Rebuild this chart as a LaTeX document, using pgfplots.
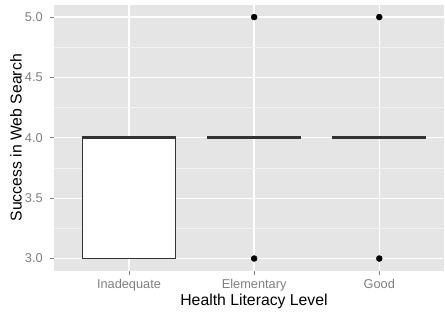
\documentclass[border=0pt]{standalone}
\usepackage{fontspec}
\setmainfont{Liberation Sans}
\usepackage{pgfplots}
\pgfplotsset{compat=1.18}
\definecolor{panel}{HTML}{E5E5E5}
\definecolor{minorgrid}{HTML}{F2F2F2}
\definecolor{ticklab}{HTML}{7F7F7F}
\definecolor{boxedge}{HTML}{333333}
\begin{document}
\begin{tikzpicture}
\begin{axis}[
  name=ax,
  scale only axis,
  width=391pt, height=266pt,
  xmin=0.4, xmax=3.52, ymin=2.9, ymax=5.1,
  axis background/.style={fill=panel},
  axis line style={draw=none},
  tick pos=left,
  tick align=outside,
  major tick length=4pt,
  minor tick length=0pt,
  tick style={ticklab, line width=0.8pt},
  xtick={1,2,3},
  xticklabels={Inadequate,Elementary,Good},
  ytick={3,3.5,4,4.5,5},
  minor ytick={3.25,3.75,4.25,4.75},
  grid=both,
  major grid style={white, line width=1.3pt},
  minor grid style={minorgrid, line width=0.6pt},
  /pgf/number format/assume math mode=true,
  ticklabel style={font=\fontsize{12.8}{15}\selectfont, text=ticklab},
  y tick label style={/pgf/number format/fixed, /pgf/number format/fixed zerofill, /pgf/number format/precision=1},
  xticklabel style={anchor=base, inner sep=0pt, yshift=-14.3pt},
  yticklabel style={anchor=east, inner sep=0pt, xshift=-7pt},
  xlabel={Health Literacy Level},
  ylabel={Success in Web Search},
  xlabel style={font=\fontsize{15.8}{18}\selectfont, at={(axis description cs:0.5125,-0.1305)}, anchor=base, inner sep=0pt},
  ylabel style={font=\fontsize{15.8}{18}\selectfont, at={(axis description cs:-0.0826,0.5)}, anchor=base, inner sep=0pt},
]
% Inadequate: box from Q1=3 to Q3=4, median 4
\addplot[draw=boxedge, fill=white, line width=1.1pt, line join=miter] coordinates {(0.625,3) (1.375,3) (1.375,4) (0.625,4) (0.625,3)} -- cycle;
\addplot[boxedge, line width=2.8pt] coordinates {(0.625,4) (1.375,4)};
% Elementary: Q1=Q3=median=4
\addplot[boxedge, line width=2.8pt] coordinates {(1.625,4) (2.375,4)};
% Good: Q1=Q3=median=4
\addplot[boxedge, line width=2.8pt] coordinates {(2.625,4) (3.375,4)};
% outliers
\addplot[only marks, mark=*, mark size=3pt, mark options={fill=black, draw=none}] coordinates {(2,3) (2,5) (3,3) (3,5)};
\end{axis}
\path[use as bounding box] ([shift={(-54pt,-41pt)}]ax.south west) rectangle ([shift={(0pt,5pt)}]ax.north east);
\end{tikzpicture}
\end{document}
